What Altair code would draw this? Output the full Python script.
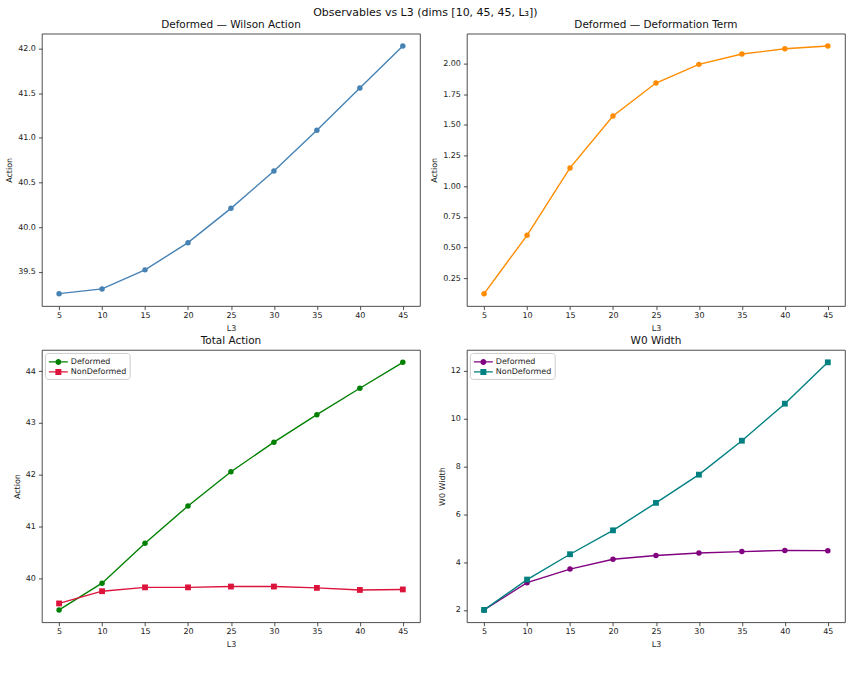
import altair as alt
import pandas as pd

# ---- data ----
L3 = [5, 10, 15, 20, 25, 30, 35, 40, 45]
wilson_action = [39.253, 39.306, 39.52, 39.825, 40.21, 40.629, 41.085, 41.559, 42.03]
deformation_term = [0.125, 0.60, 1.149, 1.572, 1.840, 1.992, 2.076, 2.119, 2.141]
total_deformed = [39.395, 39.91, 40.68, 41.40, 42.06, 42.63, 43.16, 43.67, 44.17]
total_nondeformed = [39.52, 39.756, 39.83, 39.83, 39.846, 39.846, 39.82, 39.78, 39.79]
w0_deformed = [2.0, 3.14, 3.71, 4.12, 4.28, 4.38, 4.44, 4.49, 4.48]
w0_nondeformed = [2.0, 3.27, 4.33, 5.33, 6.48, 7.66, 9.08, 10.63, 12.36]

series_names = ["Deformed", "NonDeformed"]
wilson_ticks = [39.5, 40.0, 40.5, 41.0, 41.5, 42.0]
deform_ticks = [0.25, 0.5, 0.75, 1.0, 1.25, 1.5, 1.75, 2.0]
total_ticks = [40, 41, 42, 43, 44]
w0_ticks = [2, 4, 6, 8, 10, 12]

W, H = 379, 273
FONT = "DejaVu Sans"

# legend glyphs: line with marker (circle / square)
BAR = "M-0.833,-0.117L0.25,-0.117L0.25,0.117L-0.833,0.117Z M1.25,-0.117L2.333,-0.117L2.333,0.117L1.25,0.117Z"
CIRCLE_GLYPH = BAR + " M1.25,0A0.5,0.5,0,1,1,0.25,0A0.5,0.5,0,1,1,1.25,0Z"
SQUARE_GLYPH = BAR + " M0.25,-0.5L1.25,-0.5L1.25,0.5L0.25,0.5Z"


def padded(vals):
    lo, hi = min(vals), max(vals)
    m = 0.05 * (hi - lo)
    return [lo - m, hi + m]


def x_enc():
    return alt.X("L3:Q", scale=alt.Scale(domain=[3, 47], nice=False, zero=False),
                 axis=alt.Axis(values=L3, title="L3", format="d"))


def single(vals, color, title, ytitle, yticks, fmt):
    df = pd.DataFrame({"L3": L3, "v": vals})
    base = alt.Chart(df).encode(
        x=x_enc(),
        y=alt.Y("v:Q", scale=alt.Scale(domain=padded(vals), nice=False, zero=False),
                axis=alt.Axis(values=yticks, format=fmt, title=ytitle)),
    )
    line = base.mark_line(color=color, strokeWidth=1.4)
    pts = base.mark_point(shape="circle", filled=True, size=30, color=color, opacity=1)
    return alt.layer(line, pts).properties(width=W, height=H, title=title)


def double(v1, v2, c1, c2, title, ytitle, yticks, fmt, key):
    field = "Series" + key
    df = pd.DataFrame({
        "L3": L3 + L3,
        "v": v1 + v2,
        field: [series_names[0]] * len(L3) + [series_names[1]] * len(L3),
    })
    cscale = alt.Scale(domain=series_names, range=[c1, c2])
    legend = alt.Legend(title=None, orient="top-left")
    y = alt.Y("v:Q", scale=alt.Scale(domain=padded(v1 + v2), nice=False, zero=False),
              axis=alt.Axis(values=yticks, format=fmt, title=ytitle))
    base = alt.Chart(df).encode(x=x_enc(), y=y)
    leg = base.mark_point(filled=True, opacity=0, size=30).encode(
        color=alt.Color(f"{field}:N", scale=cscale, legend=legend),
        shape=alt.Shape(f"{field}:N",
                        scale=alt.Scale(domain=series_names, range=[CIRCLE_GLYPH, SQUARE_GLYPH]),
                        legend=legend),
    )
    line = base.mark_line(strokeWidth=1.4).encode(
        color=alt.Color(f"{field}:N", scale=cscale, legend=legend))
    p_circ = base.mark_point(shape="circle", filled=True, size=30, opacity=1).encode(
        color=alt.Color(f"{field}:N", scale=cscale, legend=legend)
    ).transform_filter(alt.datum[field] == series_names[0])
    p_sq = base.mark_point(shape="square", filled=True, size=34, opacity=1).encode(
        color=alt.Color(f"{field}:N", scale=cscale, legend=legend)
    ).transform_filter(alt.datum[field] == series_names[1])
    return alt.layer(leg, line, p_circ, p_sq).properties(width=W, height=H, title=title)


p1 = single(wilson_action, "#4682b4", "Deformed — Wilson Action", "Action", wilson_ticks, ".1f")
p2 = single(deformation_term, "#ff8c00", "Deformed — Deformation Term", "Action", deform_ticks, ".2f")
p3 = double(total_deformed, total_nondeformed, "#008000", "#dc143c", "Total Action", "Action",
            total_ticks, "d", "A")
p4 = double(w0_deformed, w0_nondeformed, "#800080", "#008080", "W0 Width", "W0 Width",
            w0_ticks, "d", "B")

chart = alt.concat(p1, p2, p3, p4, columns=2, spacing={"row": 3, "column": 9}).resolve_scale(
    color="independent", shape="independent"
).properties(
    title=alt.Title("Observables vs L3 (dims [10, 45, 45, L₃])", fontSize=11, anchor="middle", offset=2),
    padding={"left": 5, "top": 6, "right": 2, "bottom": 2},
).configure_view(
    stroke="#222", strokeWidth=0.8
).configure_axis(
    domain=False, grid=False, tickColor="#222", tickSize=3.5, tickWidth=0.8,
    labelFont=FONT, labelFontSize=8, labelColor="#222", labelPadding=2,
    titleFont=FONT, titleFontSize=8, titleFontWeight="normal", titleColor="#222", titlePadding=4,
).configure_axisY(
    labelPadding=3
).configure_axisX(
    titlePadding=5
).configure_title(
    font=FONT, fontSize=10.5, fontWeight="normal", color="#111", offset=3
).configure_legend(
    labelFont=FONT, labelFontSize=8, labelColor="#222", symbolSize=144,
    symbolStrokeWidth=0, padding=3, rowPadding=0, labelOffset=11, offset=3,
    strokeColor="#cccccc", fillColor="rgba(255,255,255,0.8)", cornerRadius=3,
)

chart.save("out.html", embed_options={"renderer": "svg", "actions": False})
